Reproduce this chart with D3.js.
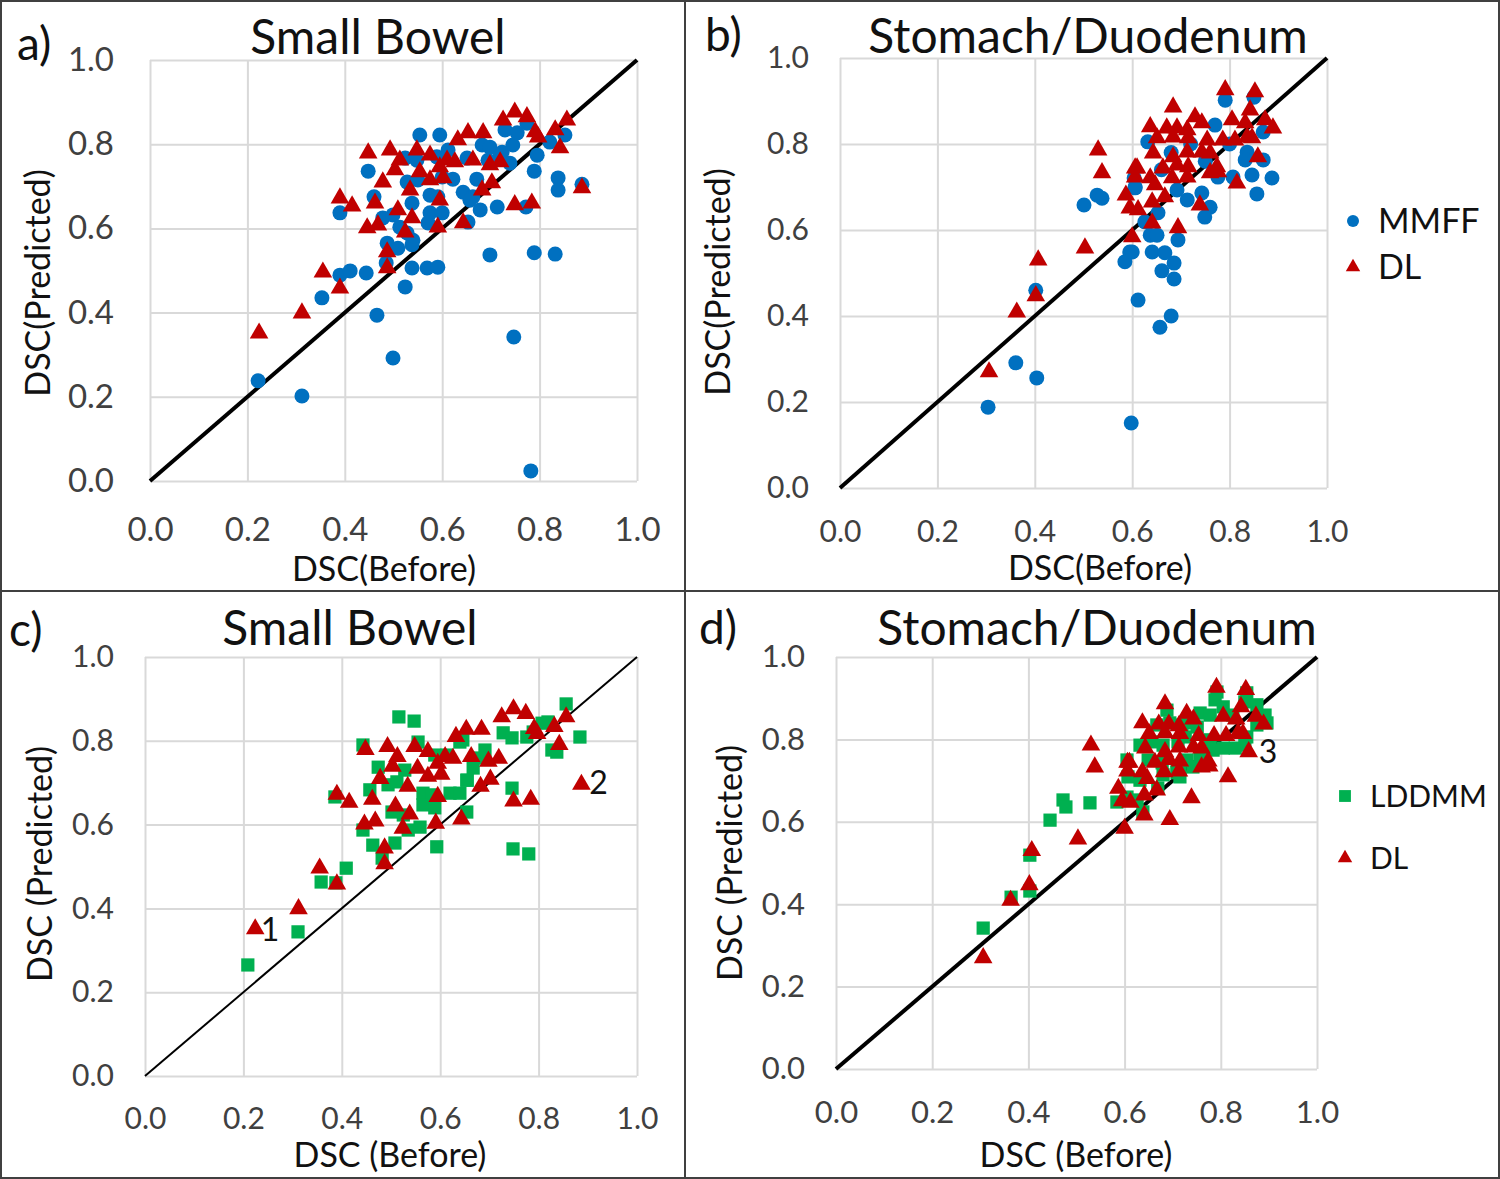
<!DOCTYPE html>
<html>
<head>
<meta charset="utf-8">
<script src="https://cdn.jsdelivr.net/npm/d3@7"></script>
<style>
  body { margin: 0; background: #fff; }
  text { font-family: Lato, "Open Sans", sans-serif; }
</style>
</head>
<body>
<div id="chart"></div>
<script>
  var W = 1500, H = 1179;

  var ticks = [0, 0.2, 0.4, 0.6, 0.8, 1.0];

  // small bowel: [DSC before, DSC predicted]
  var sbMMFF = [[0.554,0.822],[0.524,0.767],[0.548,0.762],[0.448,0.736],[0.528,0.710],[0.550,0.715],[0.390,0.637],[0.460,0.675],[0.538,0.660],[0.478,0.625],[0.499,0.632],[0.513,0.603],[0.528,0.589],[0.540,0.572],[0.487,0.565],[0.509,0.553],[0.538,0.561],[0.485,0.518],[0.538,0.506],[0.569,0.506],[0.524,0.461],[0.390,0.489],[0.411,0.499],[0.444,0.494],[0.353,0.435],[0.466,0.394],[0.222,0.238],[0.312,0.202],[0.499,0.292],[0.747,0.342],[0.782,0.024],[0.729,0.834],[0.754,0.827],[0.774,0.850],[0.595,0.822],[0.852,0.822],[0.821,0.805],[0.682,0.798],[0.698,0.793],[0.723,0.781],[0.719,0.774],[0.745,0.798],[0.612,0.786],[0.589,0.770],[0.651,0.767],[0.694,0.762],[0.739,0.755],[0.795,0.774],[0.789,0.736],[0.838,0.720],[0.838,0.691],[0.887,0.705],[0.600,0.722],[0.622,0.717],[0.671,0.717],[0.643,0.686],[0.663,0.675],[0.657,0.667],[0.575,0.679],[0.591,0.675],[0.678,0.644],[0.713,0.651],[0.772,0.651],[0.575,0.637],[0.600,0.637],[0.571,0.613],[0.653,0.615],[0.698,0.537],[0.789,0.542],[0.832,0.539],[0.591,0.508]];

  var sbDL = [[0.448,0.779],[0.493,0.786],[0.548,0.786],[0.503,0.739],[0.478,0.710],[0.390,0.672],[0.415,0.653],[0.462,0.660],[0.538,0.625],[0.446,0.601],[0.468,0.608],[0.487,0.544],[0.487,0.506],[0.355,0.496],[0.390,0.458],[0.312,0.399],[0.224,0.351],[0.749,0.876],[0.774,0.865],[0.725,0.857],[0.791,0.829],[0.797,0.817],[0.653,0.827],[0.684,0.827],[0.856,0.857],[0.832,0.834],[0.842,0.791],[0.575,0.774],[0.610,0.762],[0.626,0.758],[0.663,0.762],[0.698,0.751],[0.719,0.758],[0.595,0.746],[0.554,0.734],[0.575,0.715],[0.602,0.720],[0.702,0.708],[0.682,0.691],[0.595,0.667],[0.749,0.656],[0.784,0.660],[0.887,0.696],[0.591,0.603],[0.643,0.613],[0.632,0.810],[0.513,0.762],[0.534,0.691],[0.509,0.644],[0.524,0.591]];

  var sbLDDMM = [[0.209,0.265],[0.311,0.344],[0.358,0.463],[0.409,0.496],[0.388,0.461],[0.516,0.857],[0.547,0.847],[0.443,0.790],[0.555,0.797],[0.474,0.737],[0.528,0.730],[0.589,0.766],[0.614,0.766],[0.646,0.802],[0.494,0.695],[0.512,0.702],[0.457,0.683],[0.565,0.675],[0.583,0.671],[0.620,0.675],[0.640,0.675],[0.655,0.706],[0.386,0.666],[0.502,0.630],[0.525,0.623],[0.565,0.647],[0.589,0.640],[0.443,0.587],[0.535,0.587],[0.559,0.594],[0.463,0.551],[0.508,0.556],[0.482,0.520],[0.593,0.547],[0.856,0.888],[0.819,0.845],[0.807,0.842],[0.884,0.809],[0.837,0.773],[0.827,0.778],[0.776,0.809],[0.789,0.821],[0.728,0.819],[0.746,0.807],[0.691,0.778],[0.681,0.759],[0.667,0.735],[0.654,0.706],[0.746,0.687],[0.654,0.630],[0.748,0.542],[0.780,0.530],[0.640,0.797]];

  // stomach / duodenum
  var sdMMFF = [[0.501,0.658],[0.528,0.681],[0.538,0.674],[0.604,0.721],[0.606,0.698],[0.595,0.549],[0.585,0.526],[0.402,0.460],[0.612,0.437],[0.304,0.188],[0.361,0.291],[0.404,0.256],[0.598,0.151],[0.791,0.902],[0.850,0.909],[0.770,0.844],[0.869,0.828],[0.632,0.805],[0.836,0.781],[0.832,0.763],[0.869,0.763],[0.807,0.723],[0.846,0.728],[0.887,0.721],[0.776,0.723],[0.856,0.684],[0.606,0.700],[0.692,0.693],[0.713,0.670],[0.743,0.686],[0.760,0.653],[0.749,0.630],[0.653,0.640],[0.626,0.619],[0.637,0.588],[0.651,0.588],[0.694,0.577],[0.600,0.549],[0.641,0.549],[0.667,0.547],[0.686,0.523],[0.661,0.505],[0.686,0.486],[0.680,0.400],[0.657,0.374],[0.720,0.800],[0.680,0.780],[0.750,0.760],[0.800,0.800],[0.660,0.740]];

  var sdDL = [[0.530,0.786],[0.538,0.733],[0.606,0.744],[0.587,0.681],[0.595,0.651],[0.503,0.558],[0.600,0.584],[0.407,0.530],[0.402,0.447],[0.363,0.409],[0.306,0.270],[0.791,0.926],[0.852,0.921],[0.684,0.886],[0.842,0.879],[0.729,0.863],[0.743,0.849],[0.637,0.840],[0.671,0.837],[0.692,0.837],[0.713,0.833],[0.805,0.856],[0.832,0.849],[0.873,0.856],[0.889,0.837],[0.651,0.814],[0.684,0.816],[0.715,0.814],[0.754,0.809],[0.786,0.809],[0.811,0.809],[0.836,0.816],[0.846,0.814],[0.643,0.779],[0.684,0.770],[0.713,0.781],[0.743,0.781],[0.760,0.779],[0.858,0.770],[0.610,0.744],[0.663,0.744],[0.692,0.751],[0.715,0.747],[0.774,0.747],[0.637,0.721],[0.682,0.721],[0.713,0.723],[0.760,0.733],[0.776,0.735],[0.815,0.709],[0.606,0.723],[0.647,0.705],[0.667,0.677],[0.641,0.665],[0.739,0.658],[0.612,0.647],[0.641,0.616],[0.694,0.605]];

  var sdLDDMM = [[0.306,0.342],[0.364,0.417],[0.403,0.432],[0.403,0.519],[0.445,0.604],[0.472,0.653],[0.478,0.636],[0.528,0.646],[0.688,0.871],[0.667,0.835],[0.694,0.840],[0.719,0.835],[0.632,0.786],[0.657,0.794],[0.680,0.786],[0.711,0.794],[0.605,0.750],[0.649,0.750],[0.678,0.743],[0.709,0.733],[0.607,0.709],[0.632,0.701],[0.680,0.714],[0.709,0.719],[0.584,0.648],[0.605,0.660],[0.626,0.653],[0.669,0.682],[0.638,0.624],[0.715,0.726],[0.792,0.915],[0.854,0.913],[0.788,0.896],[0.805,0.879],[0.850,0.891],[0.875,0.884],[0.757,0.864],[0.778,0.859],[0.825,0.859],[0.892,0.859],[0.875,0.835],[0.896,0.840],[0.730,0.840],[0.751,0.830],[0.854,0.806],[0.805,0.779],[0.830,0.779],[0.850,0.786],[0.778,0.799],[0.784,0.774],[0.726,0.806],[0.730,0.750],[0.757,0.762],[0.715,0.709],[0.742,0.733]];

  var BLUE = "#0070C0", RED = "#C00000", GREEN = "#00B050";

  var svg = d3.select("#chart").append("svg")
    .attr("width", W).attr("height", H);

  svg.append("rect").attr("width", W).attr("height", H).attr("fill", "#fff");

  var panels = [
    {l:150, r:637, t:60, b:481, fs:33, xpad:37, ypad:36, lw:4,
     title:"Small Bowel", tx:378, ty:37, lab:"a)", lx:17, ly:44,
     xt:"DSC(Before)", xtx:384, xty:569, yt:"DSC(Predicted)", ytx:38, yty:283, afs:34,
     series:[{d:sbMMFF, s:"circle", c:BLUE}, {d:sbDL, s:"tri", c:RED}]},
    {l:840, r:1327, t:58, b:488, fs:30, xpad:33, ypad:31, lw:4,
     title:"Stomach/Duodenum", tx:1088, ty:36, lab:"b)", lx:705, ly:35,
     xt:"DSC(Before)", xtx:1100, xty:568, yt:"DSC(Predicted)", ytx:718, yty:282, afs:34,
     series:[{d:sdMMFF, s:"circle", c:BLUE}, {d:sdDL, s:"tri", c:RED}]},
    {l:145, r:637, t:657, b:1076, fs:30, xpad:32, ypad:31, lw:2,
     title:"Small Bowel", tx:350, ty:628, lab:"c)", lx:9, ly:630,
     xt:"DSC (Before)", xtx:390, xty:1155, yt:"DSC (Predicted)", ytx:40, yty:864, afs:34,
     series:[{d:sbLDDMM, s:"square", c:GREEN}, {d:sbDL, s:"tri", c:RED}]},
    {l:836, r:1317, t:657, b:1069, fs:31, xpad:32, ypad:31, lw:4,
     title:"Stomach/Duodenum", tx:1097, ty:628, lab:"d)", lx:699, ly:628,
     xt:"DSC (Before)", xtx:1076, xty:1155, yt:"DSC (Predicted)", ytx:730, yty:863, afs:34,
     series:[{d:sdLDDMM, s:"square", c:GREEN}, {d:sdDL, s:"tri", c:RED}]}
  ];

  var triSym = d3.symbol().type(d3.symbolTriangle).size(150);
  var sqSym = d3.symbol().type(d3.symbolSquare).size(175);

  function marks(g, data, shape, color, x, y) {
    if (shape == "circle") {
      g.selectAll(null).data(data).enter().append("circle")
        .attr("cx", function(d){ return x(d[0]); })
        .attr("cy", function(d){ return y(d[1]); })
        .attr("r", 7.5)
        .attr("fill", color);
    } else {
      g.selectAll(null).data(data).enter().append("path")
        .attr("d", shape == "tri" ? triSym : sqSym)
        .attr("transform", function(d){ return "translate(" + x(d[0]) + "," + y(d[1]) + ")"; })
        .attr("fill", color);
    }
  }

  panels.forEach(function(p){
    var x = d3.scaleLinear().domain([0, 1]).range([p.l, p.r]);
    var y = d3.scaleLinear().domain([0, 1]).range([p.b, p.t]);
    var g = svg.append("g");

    var xa = g.append("g").attr("transform", "translate(0," + p.b + ")")
      .call(d3.axisBottom(x).tickValues(ticks).tickSize(-(p.b - p.t))
        .tickPadding(p.xpad).tickFormat(d3.format(".1f")));
    var ya = g.append("g").attr("transform", "translate(" + p.l + ",0)")
      .call(d3.axisLeft(y).tickValues(ticks).tickSize(-(p.r - p.l))
        .tickPadding(p.ypad).tickFormat(d3.format(".1f")));

    [xa, ya].forEach(function(a){
      a.select(".domain").remove();
      a.selectAll(".tick line").attr("stroke", "#d9d9d9").attr("stroke-width", 2);
      a.selectAll(".tick text").attr("fill", "#404040")
        .style("font-size", p.fs + "px").style("font-family", "Lato, sans-serif");
    });

    g.append("line")
      .attr("x1", x(0)).attr("y1", y(0)).attr("x2", x(1)).attr("y2", y(1))
      .attr("stroke", "#000").attr("stroke-width", p.lw);

    p.series.forEach(function(s){ marks(g, s.d, s.s, s.c, x, y); });

    g.append("text").attr("x", p.tx).attr("y", p.ty).attr("dy", "0.35em")
      .attr("text-anchor", "middle").style("font-size", "48px").attr("fill", "#111")
      .text(p.title);
    g.append("text").attr("x", p.lx).attr("y", p.ly).attr("dy", "0.35em")
      .style("font-size", "46px").attr("fill", "#111").text(p.lab);
    g.append("text").attr("x", p.xtx).attr("y", p.xty).attr("dy", "0.35em")
      .attr("text-anchor", "middle").style("font-size", p.afs + "px").attr("fill", "#111")
      .text(p.xt);
    g.append("text").attr("transform", "translate(" + p.ytx + "," + p.yty + ") rotate(-90)")
      .attr("dy", "0.35em").attr("text-anchor", "middle")
      .style("font-size", p.afs + "px").attr("fill", "#111").text(p.yt);
  });

  // legends
  var lg = svg.append("g");
  lg.append("circle").attr("cx", 1353).attr("cy", 221).attr("r", 6).attr("fill", BLUE);
  lg.append("text").attr("x", 1378).attr("y", 221).attr("dy", "0.35em")
    .style("font-size", "34px").attr("fill", "#111").text("MMFF");
  lg.append("path").attr("d", d3.symbol().type(d3.symbolTriangle).size(90))
    .attr("transform", "translate(1353,267)").attr("fill", RED);
  lg.append("text").attr("x", 1378).attr("y", 267).attr("dy", "0.35em")
    .style("font-size", "34px").attr("fill", "#111").text("DL");

  lg.append("path").attr("d", d3.symbol().type(d3.symbolSquare).size(140))
    .attr("transform", "translate(1345,796)").attr("fill", GREEN);
  lg.append("text").attr("x", 1370).attr("y", 796).attr("dy", "0.35em")
    .style("font-size", "30px").attr("fill", "#111").text("LDDMM");
  lg.append("path").attr("d", d3.symbol().type(d3.symbolTriangle).size(90))
    .attr("transform", "translate(1345,858)").attr("fill", RED);
  lg.append("text").attr("x", 1370).attr("y", 858).attr("dy", "0.35em")
    .style("font-size", "30px").attr("fill", "#111").text("DL");

  // case labels
  var notes = [{t:"1", x:0.254, y:0.348, p:2}, {t:"2", x:0.922, y:0.699, p:2}, {t:"3", x:0.898, y:0.769, p:3}];
  notes.forEach(function(n){
    var p = panels[n.p];
    var x = d3.scaleLinear().domain([0, 1]).range([p.l, p.r]);
    var y = d3.scaleLinear().domain([0, 1]).range([p.b, p.t]);
    svg.append("text").attr("x", x(n.x)).attr("y", y(n.y)).attr("dy", "0.35em")
      .attr("text-anchor", "middle")
      .style("font-size", "32px").attr("fill", "#111").text(n.t);
  });

  // frame
  svg.append("rect").attr("x", 1).attr("y", 1).attr("width", W - 2).attr("height", H - 2)
    .attr("fill", "none").attr("stroke", "#404040").attr("stroke-width", 2);
  svg.append("line").attr("x1", 685).attr("y1", 0).attr("x2", 685).attr("y2", H)
    .attr("stroke", "#404040").attr("stroke-width", 2);
  svg.append("line").attr("x1", 0).attr("y1", 591).attr("x2", W).attr("y2", 591)
    .attr("stroke", "#404040").attr("stroke-width", 2);
</script>
</body>
</html>
